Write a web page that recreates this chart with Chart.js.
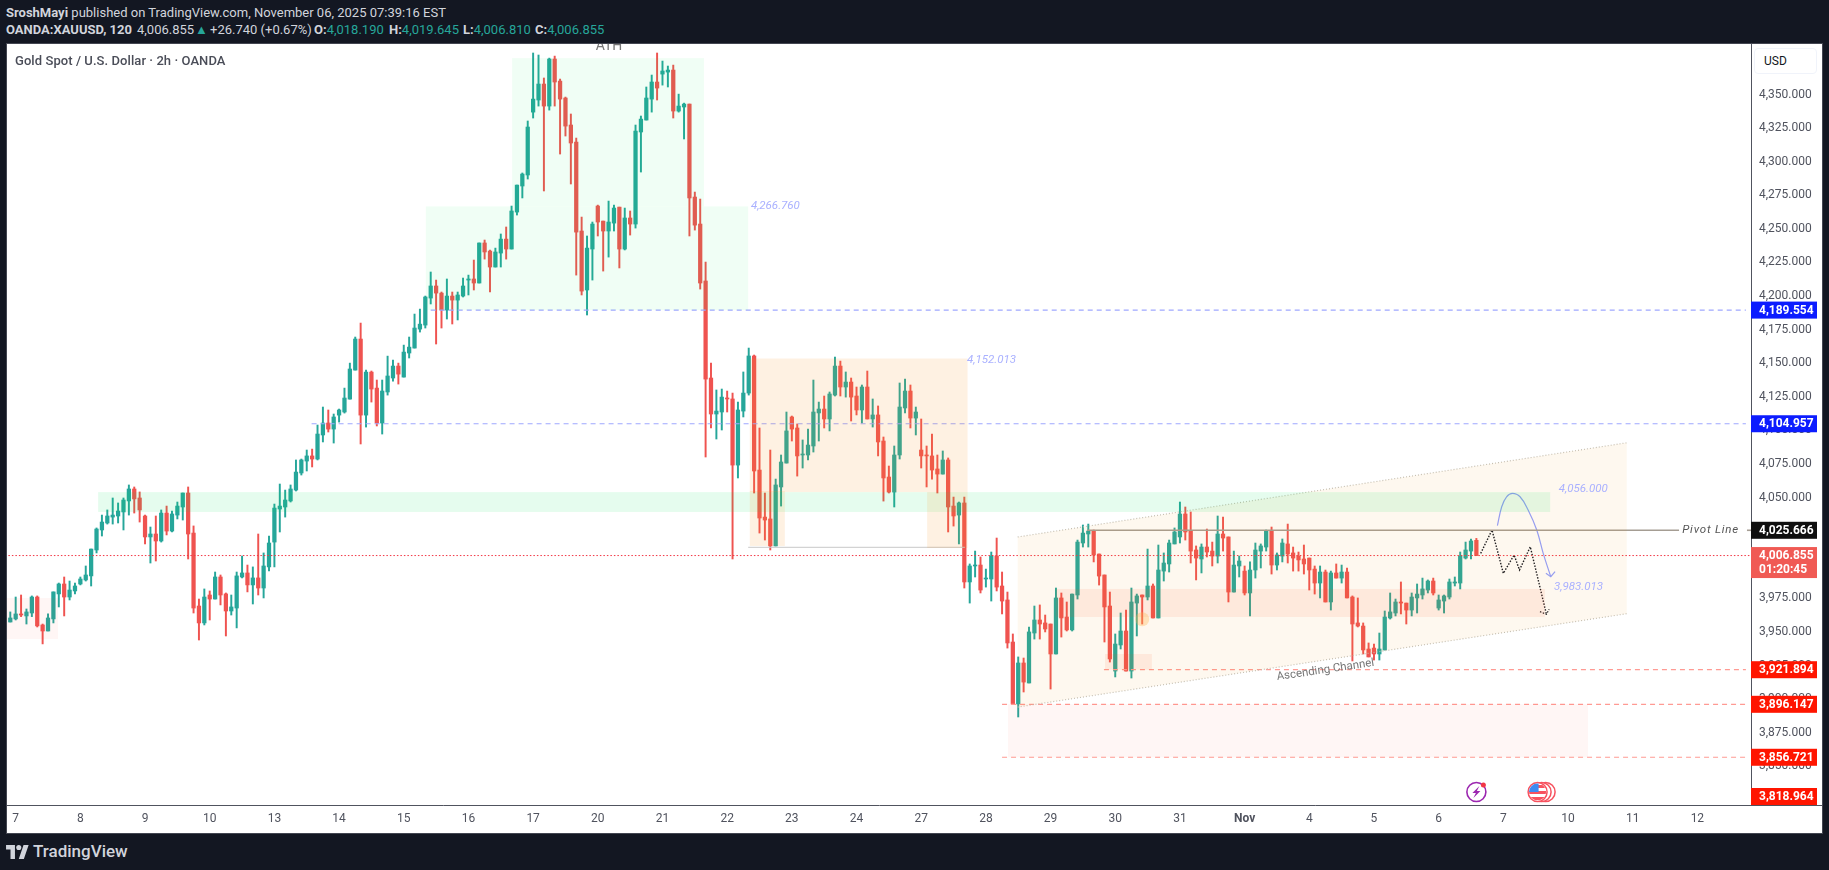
<!DOCTYPE html>
<html>
<head>
<meta charset="utf-8">
<title>XAUUSD 2h</title>
<script src="https://cdn.jsdelivr.net/npm/chart.js@4"></script>
<style>
html, body { margin: 0; padding: 0; background: #131722; width: 1829px; height: 870px; overflow: hidden; font-family: Roboto, sans-serif; }
.hdr { position: absolute; white-space: nowrap; color: #d1d4dc; font-size: 13px; line-height: 16px; }
.hdr b { font-weight: 700; }
.up { color: #26a69a; }
#panel { position: absolute; left: 7px; top: 44px; width: 1815px; height: 789px; background: #fff; box-shadow: 0 0 0 1px #434651; }
#title { position: absolute; left: 15px; top: 53px; font-size: 13px; line-height: 16px; font-weight: 500; color: #4a4d58; white-space: nowrap; letter-spacing: 0.07px; }
#usd { position: absolute; left: 1754px; top: 48px; width: 63px; height: 26px; box-sizing: border-box; border: 1px solid #f0f3fa; border-radius: 4px; background: #fff; font-size: 12px; line-height: 24px; color: #131722; padding-left: 9px; }
#brand { position: absolute; left: 33px; top: 841px; font-size: 17px; line-height: 20px; font-weight: 500; color: #d1d4dc; }
#logo { position: absolute; left: 6px; top: 845px; }
</style>
</head>
<body>
<div class="hdr" style="left:6px;top:5px"><b>SroshMayi</b> published on TradingView.com, November 06, 2025 07:39:16 EST</div>
<div class="hdr" style="left:6px;top:22px"><b>OANDA:XAUUSD, 120</b></div>
<div class="hdr" style="left:137px;top:22px">4,006.855</div>
<div class="hdr up" style="left:195px;top:22px">▲</div>
<div class="hdr" style="left:210px;top:22px">+26.740 (+0.67%)</div>
<div class="hdr" style="left:314px;top:22px"><b>O:</b><span class="up">4,018.190</span></div>
<div class="hdr" style="left:389px;top:22px"><b>H:</b><span class="up">4,019.645</span></div>
<div class="hdr" style="left:463px;top:22px"><b>L:</b><span class="up">4,006.810</span></div>
<div class="hdr" style="left:535px;top:22px"><b>C:</b><span class="up">4,006.855</span></div>
<div id="panel"><canvas id="goldChart" width="1815" height="789"></canvas></div>
<div id="title">Gold Spot / U.S. Dollar · 2h · OANDA</div>
<div id="usd">USD</div>
<svg id="logo" width="23" height="14" viewBox="0 0 36 22"><path fill="#d1d4dc" d="M14 22H7V7H0V0h14v22zM28 22h-8L27.500 0h8L28 22z"/><circle fill="#d1d4dc" cx="20" cy="4" r="4"/></svg>
<div id="brand">TradingView</div>

<script>
const opens = [
3957.4,3959.7,3963.4,3961.9,3964.1,3976.0,3955.2,3950.7,3959.7,3978.3,
3985.7,3976.0,3980.5,3985.7,3988.7,3991.7,4011.0,4025.9,4031.1,4035.5,
4036.3,4039.3,4047.5,4056.4,4049.7,4036.3,4020.7,4022.9,4017.7,4038.5,
4025.1,4037.0,4043.0,4053.4,4023.6,3969.3,3956.7,3977.5,3974.5,3990.9,
3978.3,3965.6,3967.8,3990.9,3993.9,3985.0,3990.2,3982.7,3998.4,4016.9,
4041.5,4043.0,4047.5,4055.6,4068.3,4077.2,4081.0,4078.7,4096.6,4105.5,
4101.0,4111.4,4113.7,4123.3,4144.9,4168.0,4111.4,4143.4,4131.5,4105.5,
4128.6,4139.0,4147.9,4139.7,4157.6,4161.3,4175.4,4178.4,4198.5,4207.5,
4202.2,4189.6,4200.0,4197.0,4200.0,4211.9,4212.7,4209.7,4239.5,4233.5,
4221.6,4232.0,4242.4,4235.0,4262.5,4281.9,4290.1,4336.9,4345.9,4357.8,
4341.4,4376.4,4360.0,4347.4,4327.3,4314.6,4248.4,4204.5,4235.0,4267.0,
4255.8,4248.4,4254.3,4266.2,4235.0,4258.1,4253.6,4322.1,4331.0,4346.6,
4359.3,4365.2,4366.7,4368.2,4337.7,4340.7,4342.9,4273.7,4253.6,4211.2,
4139.0,4112.2,4113.7,4124.1,4123.4,4074.2,4114.4,4127.8,4155.4,4070.5,
4035.5,4034.1,4014.0,4057.9,4075.7,4110.0,4101.8,4081.7,4081.7,4088.4,
4113.0,4115.9,4108.5,4126.3,4147.9,4132.3,4136.0,4125.6,4115.2,4132.3,
4108.5,4111.5,4092.1,4065.3,4054.1,4081.7,4116.7,4129.3,4109.2,4085.4,
4081.7,4081.0,4071.3,4067.5,4078.0,4043.7,4037.0,4046.0,3987.2,3999.1,
3999.8,3989.4,3989.4,4006.5,3984.2,3973.8,3942.5,3896.4,3926.9,3912.0,
3949.2,3958.9,3956.7,3955.9,3933.6,3975.3,3961.1,3951.5,3977.5,4016.2,
4022.9,4025.1,4008.0,3992.4,3969.3,3920.9,3940.3,3950.7,3920.9,3971.5,
3977.5,3976.0,3984.2,3960.4,3995.3,4000.6,4015.5,4020.7,4037.8,4025.1,
4011.0,4004.3,4013.2,4010.2,4006.5,4022.9,4020.7,3979.7,3999.1,3995.3,
3979.0,3996.1,4010.2,4013.2,4025.1,3999.8,4006.5,4015.5,4008.8,4006.5,
4004.3,4005.0,3996.8,3986.4,3994.6,3972.3,3993.9,3990.1,3994.6,3976.0,
3956.7,3954.4,3937.3,3938.0,3933.6,3936.6,3960.4,3964.1,3972.3,3971.5,
3966.3,3975.3,3977.5,3981.2,3987.9,3967.8,3973.0,3976.0,3986.4,3986.4,
4005.0,4010.2,4018.19];

const highs = [
3964.9,3976.0,3977.5,3967.1,3976.8,3976.8,3955.9,3963.4,3979.8,3986.4,
3990.9,3987.9,3986.4,3990.9,3999.1,4011.7,4027.4,4037.0,4040.8,4049.7,
4046.0,4049.7,4059.4,4057.9,4054.2,4037.0,4028.1,4036.3,4040.8,4043.7,
4040.0,4046.7,4053.4,4057.9,4028.9,3974.5,3982.0,3980.5,3994.6,3992.4,
3979.0,3977.5,3994.6,4006.5,3999.8,3998.4,4022.9,4008.8,4021.4,4045.2,
4060.1,4055.6,4059.4,4078.0,4078.7,4085.4,4086.1,4104.0,4117.4,4115.2,
4112.2,4115.9,4131.5,4150.1,4169.5,4179.9,4144.9,4144.2,4137.5,4137.5,
4155.3,4152.4,4150.1,4163.5,4169.5,4186.6,4190.3,4200.0,4217.9,4211.9,
4203.0,4212.7,4203.0,4203.0,4213.4,4215.6,4226.8,4239.5,4241.7,4234.3,
4235.7,4246.2,4251.4,4267.0,4282.6,4291.6,4330.3,4380.9,4379.4,4362.3,
4377.1,4378.6,4361.5,4348.1,4335.5,4317.6,4258.8,4244.7,4255.1,4267.7,
4255.8,4270.7,4267.7,4266.2,4265.5,4263.3,4327.3,4334.0,4355.6,4364.5,
4380.9,4374.9,4371.2,4371.9,4350.3,4343.6,4342.9,4277.4,4272.2,4225.3,
4150.1,4130.1,4130.8,4129.3,4127.8,4121.1,4143.5,4161.3,4156.1,4101.8,
4053.4,4085.4,4063.8,4081.7,4113.7,4110.7,4104.8,4092.9,4101.0,4137.5,
4121.1,4125.6,4128.6,4154.6,4151.6,4143.5,4139.0,4132.3,4133.8,4144.2,
4123.4,4118.2,4095.1,4073.5,4088.4,4135.3,4138.2,4133.8,4117.4,4108.5,
4088.4,4097.3,4081.7,4084.7,4079.5,4050.4,4046.7,4050.4,4000.6,4010.2,
4005.8,3996.8,4009.5,4019.9,3994.6,3979.7,3948.5,3931.4,3930.6,3953.7,
3969.3,3970.1,3962.6,3955.9,3982.7,3979.0,3972.3,3978.2,4018.4,4029.6,
4030.3,4025.9,4008.0,3992.4,3979.7,3948.5,3964.1,3966.3,3982.7,3978.2,
3977.5,4011.7,3985.7,4014.7,4008.8,4018.4,4027.4,4046.7,4043.0,4039.3,
4014.0,4015.5,4026.6,4016.9,4036.3,4035.5,4020.7,4010.2,4006.5,3999.1,
4002.1,4016.2,4015.5,4025.9,4028.1,4008.8,4019.2,4030.3,4013.2,4009.5,
4014.7,4005.0,3999.1,3999.1,3996.1,3995.3,4000.6,3999.8,3997.6,3976.8,
3975.3,3956.7,3941.8,3941.0,3949.2,3965.6,3979.0,3974.5,3987.2,3971.5,
3979.0,3985.7,3990.1,3988.7,3990.1,3977.5,3977.5,3989.4,3990.9,4009.5,
4016.9,4019.2,4019.645];

const lows = [
3957.4,3958.9,3961.4,3955.9,3961.4,3953.7,3941.1,3950.7,3956.7,3968.6,
3961.9,3973.8,3978.3,3985.0,3987.9,3984.2,4008.8,4021.4,4030.3,4030.3,
4031.1,4025.9,4037.0,4038.5,4031.8,4015.5,4001.3,4002.8,4016.9,4022.2,
4024.4,4034.1,4033.3,4004.3,3964.1,3944.0,3955.2,3958.9,3974.5,3970.1,
3947.0,3962.6,3953.0,3990.2,3979.8,3970.8,3977.5,3975.3,3995.4,3998.4,
4024.4,4035.5,4046.7,4054.9,4066.8,4069.8,4072.8,4078.0,4091.4,4098.8,
4090.6,4106.2,4112.9,4123.3,4144.9,4089.9,4102.5,4121.1,4103.3,4097.3,
4126.3,4136.7,4134.5,4139.7,4153.9,4161.3,4173.2,4176.2,4194.1,4164.3,
4176.2,4182.9,4179.2,4182.2,4199.3,4200.8,4204.5,4209.7,4227.5,4203.0,
4221.6,4221.6,4227.5,4235.0,4260.3,4273.0,4287.1,4332.5,4341.4,4278.2,
4338.4,4341.4,4305.7,4319.1,4283.4,4215.6,4200.8,4185.9,4211.9,4244.7,
4218.6,4229.0,4248.4,4220.9,4234.3,4245.4,4250.6,4292.3,4331.0,4336.9,
4345.9,4357.0,4355.6,4332.5,4336.9,4316.9,4244.7,4249.1,4205.2,4080.2,
4101.8,4093.6,4100.3,4113.7,4004.3,4064.6,4110.0,4126.3,4053.4,4023.6,
4018.4,4011.0,4014.0,4043.7,4075.7,4092.1,4066.0,4072.0,4078.0,4083.9,
4092.1,4101.8,4099.6,4125.6,4125.6,4124.8,4107.0,4111.5,4105.5,4108.5,
4102.5,4081.0,4047.4,4053.4,4043.0,4078.7,4113.0,4101.8,4096.6,4072.0,
4057.9,4063.8,4053.4,4067.5,4024.4,4028.8,4015.5,3982.7,3971.5,3990.9,
3979.0,3983.4,3973.0,3980.5,3963.4,3938.0,3896.4,3886.7,3905.3,3912.0,
3944.7,3944.7,3950.0,3907.5,3933.6,3946.2,3950.7,3950.7,3974.5,4013.2,
4013.2,4002.1,3984.9,3942.5,3927.6,3916.5,3937.3,3920.9,3915.7,3947.0,
3955.9,3973.8,3960.4,3960.4,3987.9,3994.6,4015.5,4016.2,4018.4,4001.3,
3988.7,3993.9,4005.8,3999.1,4001.3,4010.2,3972.3,3979.7,3990.9,3977.5,
3961.9,3990.1,3997.6,4010.2,3993.1,3996.1,4002.1,4001.3,3995.3,3995.3,
3993.1,3981.2,3978.2,3975.3,3972.3,3966.3,3990.1,3986.4,3975.3,3928.4,
3953.7,3933.6,3931.4,3929.1,3929.1,3936.6,3959.6,3961.9,3963.4,3955.9,
3961.9,3964.1,3974.5,3979.0,3977.5,3966.3,3964.1,3974.5,3984.2,3982.0,
4004.3,4004.3,4006.81];

const closes = [
3960.4,3963.4,3962.6,3964.9,3976.0,3954.5,3950.7,3960.4,3979.8,3985.7,
3976.0,3981.2,3984.2,3989.4,3992.4,4011.7,4026.6,4031.8,4036.3,4037.0,
4040.0,4048.2,4056.4,4049.0,4040.8,4020.7,4022.9,4017.7,4038.5,4025.1,
4037.8,4043.7,4053.4,4022.9,3967.8,3956.7,3976.0,3974.5,3990.9,3977.5,
3965.6,3968.6,3991.7,3993.9,3985.0,3990.2,3982.7,3999.1,4016.2,4042.2,
4043.7,4048.2,4056.4,4069.0,4078.0,4081.0,4078.7,4097.3,4105.5,4101.0,
4110.0,4115.2,4124.1,4145.7,4168.0,4111.4,4143.4,4130.8,4105.5,4129.3,
4140.5,4147.9,4141.9,4158.3,4162.0,4176.2,4179.1,4199.3,4207.5,4202.2,
4189.6,4200.0,4197.0,4200.8,4207.5,4212.7,4209.7,4239.5,4232.8,4221.6,
4232.8,4242.4,4235.0,4263.3,4282.6,4290.8,4325.8,4346.6,4357.8,4341.4,
4376.4,4359.3,4346.6,4326.5,4313.9,4247.6,4203.7,4235.7,4253.6,4255.1,
4248.4,4255.1,4265.5,4235.0,4258.1,4253.6,4322.8,4331.7,4347.4,4359.3,
4354.8,4367.5,4368.2,4337.7,4341.4,4342.9,4273.0,4252.8,4209.7,4138.2,
4112.2,4114.4,4124.8,4123.4,4074.2,4115.2,4127.8,4155.4,4069.8,4034.8,
4033.3,4014.0,4059.4,4076.5,4099.6,4101.0,4081.0,4082.4,4089.1,4113.7,
4115.9,4108.5,4127.1,4147.9,4132.3,4136.0,4124.8,4115.2,4132.3,4108.5,
4111.5,4091.4,4064.6,4054.1,4081.7,4117.4,4129.3,4109.2,4113.7,4081.0,
4081.0,4070.5,4067.5,4078.0,4043.0,4036.3,4046.0,3987.2,3999.1,3999.8,
3981.2,3990.1,4006.5,3983.4,3973.0,3941.8,3896.4,3926.9,3912.7,3950.0,
3958.9,3955.9,3952.2,3933.6,3975.3,3960.4,3951.5,3978.2,4016.9,4023.6,
4025.1,4007.3,3991.6,3968.6,3929.9,3941.0,3950.7,3920.9,3972.3,3976.8,
3976.0,3984.2,3960.4,3996.1,4001.3,4016.2,4024.4,4037.8,4024.4,4010.2,
4005.0,4013.2,4009.5,4006.5,4022.9,4019.9,3979.7,3999.8,4002.8,3979.0,
3996.1,4011.0,4014.0,4025.1,3999.8,4007.3,4016.2,4008.0,4005.0,4003.6,
4000.6,3996.1,3986.4,3994.6,3972.3,3993.9,3990.1,3994.6,3975.3,3955.9,
3954.4,3936.6,3931.4,3933.6,3937.3,3961.1,3964.9,3972.3,3971.5,3966.3,
3976.0,3978.2,3982.0,3987.9,3979.0,3973.8,3976.8,3987.2,3987.2,4006.5,
4011.0,4017.7,4006.855];

// time axis: bar number of each day start and the label shown
const dayBars = [1,13,25,37,49,61,73,85,97,109,121,133,145,157,169,181,193,205,217,229,241,253,265,277,289,301,313];
const dayLabels = ['7','8','9','10','13','14','15','16','17','20','21','22','23','24','27','28','29','30','31','Nov','4','5','6','7','10','11','12'];

const priceTicks = [3825,3850,3875,3900,3925,3950,3975,4000,4025,4050,4075,4100,4125,4150,4175,4200,4225,4250,4275,4300,4325,4350,4375];

// levels marked on the right axis
const blueLevels = [4189.554, 4104.957];
const blueLevelStarts = [78, 55.9];
const redLevels = [3921.894, 3896.147, 3856.721];
const redLevelStarts = [202.9, 184, 184];
const pivotPrice = 4025.666;
const lastPrice = 4006.855;
const lowestTag = 3818.964;

// drawn zones: [first bar, last bar, upper price, lower price]
const zoneGreenBand = [16.3, 285.7, 4054.1, 4039.3];
const zoneGreenLow = [77.1, 136.9, 4266.76, 4189.554];
const zoneGreenHigh = [93.1, 128.7, 4377.1, 4266.76];
const zoneOrangeBig = [137.2, 177.6, 4153.5, 4054.1];
const zoneOrangeLeft = [137.2, 143.7, 4054.9, 4014.0];
const zoneOrangeRight = [170.1, 177.6, 4054.1, 4012.5];
const zoneRedStart = [-0.7, 8.85, 3975.3, 3944.7];
const zoneRedBelow = [185.1, 292.7, 3896.147, 3856.721];
const zoneSalmonWide = [194, 284.7, 3982.0, 3961.1];
const zoneSalmonSmall = [203.1, 211.8, 3933.6, 3921.894];

// ascending channel
const channelBars = [186.9, 299.9];
const channelTop = [4020.7, 4090.8];
const channelBottom = [3894.1, 3963.6];

const supportBars = [136.9, 177.1];
const supportPrice = 4013.0;

// sketched price paths
const zigBars = [272.8, 274.9, 277.0, 279.0, 280.0, 282.0, 285.0];
const zigPrices = [4008.5, 4025.9, 3993.6, 4007.3, 3996.1, 4013.4, 3963.1];
const zigHeadBars = [283.8, 285.0, 285.5];
const zigHeadPrices = [3965.1, 3963.1, 3966.9];
const arcBars = [275.9, 276.7, 277.6, 278.7, 280.1, 281.6, 283.2, 284.4, 285.8];
const arcPrices = [4029.1, 4043.2, 4050.6, 4053.2, 4050.6, 4040.8, 4025.9, 4008.5, 3991.1];
const arcHeadBars = [284.9, 285.8, 286.6];
const arcHeadPrices = [3993.6, 3991.1, 3994.9];

const green = '#26a69a';
const red = '#ef5350';
const axisText = '#50535e';

function points(xs, ys) {
    return xs.map((x, i) => ({ x: x, y: ys[i] }));
}

function lineSet(xs, ys, color, width, dash, tension) {
    return {
        type: 'line',
        data: points(xs, ys),
        borderColor: color,
        borderWidth: width,
        borderDash: dash || [],
        pointRadius: 0,
        tension: tension || 0,
        order: 1
    };
}

const candleColors = closes.map((c, i) => c >= opens[i] ? green : red);

const datasets = [
    {
        label: 'wick',
        data: opens.map((o, i) => ({ x: i, y: [lows[i], highs[i]] })),
        backgroundColor: candleColors,
        barThickness: 1.3,
        grouped: false,
        order: 3
    },
    {
        label: 'body',
        data: opens.map((o, i) => ({ x: i, y: [o, closes[i]] })),
        backgroundColor: candleColors,
        barThickness: 3.6,
        minBarLength: 1,
        grouped: false,
        order: 2
    },
    lineSet([-1, 323], [lastPrice, lastPrice], '#f23645', 1, [1.5, 2]),
    lineSet(supportBars, [supportPrice, supportPrice], '#c8c8c8', 1),
    lineSet([199.8, 309.6], [pivotPrice, pivotPrice], '#a59d93', 1.6),
    lineSet([322.2, 323], [pivotPrice, pivotPrice], '#a59d93', 1.6),
    lineSet(channelBars, channelTop, '#c4c0b6', 1.2, [1, 2]),
    lineSet(channelBars, channelBottom, '#c4c0b6', 1.2, [1, 2]),
    lineSet(zigBars, zigPrices, '#131722', 1.4, [1.5, 1.5]),
    lineSet(zigHeadBars, zigHeadPrices, '#131722', 1.2, [1.5, 1.5]),
    lineSet(arcBars, arcPrices, '#8f9dff', 1.2, null, 0.4),
    lineSet(arcHeadBars, arcHeadPrices, '#8f9dff', 1.2)
];
blueLevels.forEach((p, i) => datasets.push(lineSet([blueLevelStarts[i], 322], [p, p], '#9fa8ff', 1.2, [5, 4])));
redLevels.forEach((p, i) => datasets.push(lineSet([redLevelStarts[i], 322], [p, p], '#ff9a93', 1.2, [5, 4])));

function fillZone(chart, zone, color) {
    const x = chart.scales.x, y = chart.scales.y;
    const left = x.getPixelForValue(zone[0]);
    const top = y.getPixelForValue(zone[2]);
    chart.ctx.fillStyle = color;
    chart.ctx.fillRect(left, top, x.getPixelForValue(zone[1]) - left, y.getPixelForValue(zone[3]) - top);
}

function noteText(chart, text, bar, price, color, font, angle, spacing) {
    const ctx = chart.ctx;
    ctx.save();
    ctx.translate(chart.scales.x.getPixelForValue(bar), chart.scales.y.getPixelForValue(price));
    if (angle) ctx.rotate(angle);
    ctx.font = font;
    ctx.fillStyle = color;
    ctx.textBaseline = 'middle';
    ctx.textAlign = angle ? 'center' : 'left';
    if (spacing) ctx.letterSpacing = spacing;
    ctx.fillText(text, 0, 0);
    ctx.restore();
}

function priceTag(chart, price, color, second) {
    const ctx = chart.ctx;
    const area = chart.chartArea;
    let mid = chart.scales.y.getPixelForValue(price);
    if (mid > area.bottom - 8.5) mid = area.bottom - 8.5;
    const h = second ? 31 : 17;
    const top = mid - 8.5;
    ctx.fillStyle = color;
    ctx.fillRect(area.right, top, 66, h);
    ctx.fillStyle = '#fff';
    ctx.font = 'bold 12px Roboto';
    ctx.textBaseline = 'middle';
    ctx.textAlign = 'left';
    ctx.fillText(price.toLocaleString('en-US', { minimumFractionDigits: 3 }), area.right + 8, mid + 0.5);
    if (second) ctx.fillText(second, area.right + 8, mid + 14.5);
}

const overlayPlugin = {
    id: 'overlay',
    afterDatasetsDraw(chart) {
        const ctx = chart.ctx, x = chart.scales.x, y = chart.scales.y, area = chart.chartArea;
        ctx.save();
        ctx.beginPath();
        ctx.rect(area.left, area.top, area.right - area.left, area.bottom - area.top);
        ctx.clip();

        // channel fill goes under the other zones
        ctx.fillStyle = 'rgba(245,150,30,0.07)';
        ctx.beginPath();
        ctx.moveTo(x.getPixelForValue(channelBars[0]), y.getPixelForValue(channelTop[0]));
        ctx.lineTo(x.getPixelForValue(channelBars[1]), y.getPixelForValue(channelTop[1]));
        ctx.lineTo(x.getPixelForValue(channelBars[1]), y.getPixelForValue(channelBottom[1]));
        ctx.lineTo(x.getPixelForValue(channelBars[0]), y.getPixelForValue(channelBottom[0]));
        ctx.closePath();
        ctx.fill();

        fillZone(chart, zoneGreenBand, 'rgba(0,230,90,0.1)');
        fillZone(chart, zoneGreenLow, 'rgba(0,230,90,0.06)');
        fillZone(chart, zoneGreenHigh, 'rgba(0,230,90,0.06)');
        fillZone(chart, zoneOrangeBig, 'rgba(245,150,30,0.13)');
        fillZone(chart, zoneOrangeLeft, 'rgba(245,150,30,0.13)');
        fillZone(chart, zoneOrangeRight, 'rgba(245,150,30,0.13)');
        fillZone(chart, zoneRedStart, 'rgba(255,80,50,0.05)');
        fillZone(chart, zoneRedBelow, 'rgba(255,80,50,0.05)');
        fillZone(chart, zoneSalmonWide, 'rgba(250,80,30,0.09)');
        fillZone(chart, zoneSalmonSmall, 'rgba(250,80,30,0.09)');

        // touch marker left on the chart
        ctx.fillStyle = 'rgba(255,180,80,0.35)';
        ctx.beginPath();
        ctx.arc(x.getPixelForValue(210), y.getPixelForValue(3959.4), 7, 0, Math.PI * 2);
        ctx.fill();

        const noteColor = '#aab1ff';
        const noteFont = 'italic 11.500px Roboto';
        noteText(chart, '4,266.760', 137.4, 4267, noteColor, noteFont);
        noteText(chart, '4,152.013', 177.5, 4152.4, noteColor, noteFont);
        noteText(chart, '4,056.000', 287.3, 4056.4, noteColor, noteFont);
        noteText(chart, '3,983.013', 286.4, 3983.4, noteColor, noteFont);
        noteText(chart, 'Pivot Line', 310.2, pivotPrice, '#555', 'italic 11.500px Roboto', 0, '0.8px');
        noteText(chart, 'Ascending Channel', 244, 3921.6, '#777', '11.500px Roboto', -0.146);
        noteText(chart, 'ATH', 108.6, 4385.5, '#777', '14px Roboto');
        ctx.restore();
    },
    afterDraw(chart) {
        const ctx = chart.ctx, x = chart.scales.x, area = chart.chartArea;
        // the time axis line runs on under the price axis
        ctx.fillStyle = axisText;
        ctx.fillRect(area.right, area.bottom, 71, 1);

        blueLevels.forEach(p => priceTag(chart, p, '#0c1cff'));
        priceTag(chart, pivotPrice, '#0f0f0f');
        priceTag(chart, lastPrice, '#f05a54', '01:20:45');
        redLevels.forEach(p => priceTag(chart, p, '#ff1500'));
        priceTag(chart, lowestTag, '#ff1500');

        // event icons under the last bars
        const cy = area.bottom - 13;
        const bx = x.getPixelForValue(272);
        ctx.strokeStyle = '#9c27b0';
        ctx.lineWidth = 1.6;
        ctx.beginPath();
        ctx.arc(bx, cy, 9.5, 0, Math.PI * 2);
        ctx.stroke();
        ctx.fillStyle = '#9c27b0';
        ctx.beginPath();
        ctx.moveTo(bx + 3, cy - 6);
        ctx.lineTo(bx - 4, cy + 1);
        ctx.lineTo(bx - 0.5, cy + 1);
        ctx.lineTo(bx - 3, cy + 6);
        ctx.lineTo(bx + 4, cy - 1);
        ctx.lineTo(bx + 0.5, cy - 1);
        ctx.closePath();
        ctx.fill();
        ctx.fillStyle = '#f23645';
        ctx.beginPath();
        ctx.arc(bx + 7, cy - 7, 2.5, 0, Math.PI * 2);
        ctx.fill();

        const fx = x.getPixelForValue(284.1) - 4;
        [8, 4, 0].forEach(off => {
            ctx.fillStyle = '#fff';
            ctx.strokeStyle = '#f7525f';
            ctx.lineWidth = 1.5;
            ctx.beginPath();
            ctx.arc(fx + off, cy, 9.5, 0, Math.PI * 2);
            ctx.fill();
            ctx.stroke();
        });
        ctx.save();
        ctx.beginPath();
        ctx.arc(fx, cy, 8.5, 0, Math.PI * 2);
        ctx.clip();
        ctx.fillStyle = '#f7525f';
        ctx.fillRect(fx - 9, cy - 1, 18, 3);
        ctx.fillRect(fx - 9, cy + 5, 18, 3);
        ctx.fillRect(fx, cy - 7, 9, 3);
        ctx.fillStyle = '#3d8bf2';
        ctx.fillRect(fx - 9, cy - 9, 10, 9);
        ctx.restore();
    }
};

function noPadding(axis) {
    axis.paddingLeft = 0;
    axis.paddingRight = 0;
    axis.paddingTop = 0;
    axis.paddingBottom = 0;
}

new Chart(document.getElementById('goldChart'), {
    type: 'bar',
    data: { datasets: datasets },
    plugins: [overlayPlugin],
    options: {
        responsive: false,
        animation: false,
        devicePixelRatio: 1,
        layout: { padding: 0, autoPadding: false },
        plugins: { legend: { display: false }, tooltip: { enabled: false } },
        scales: {
            x: {
                type: 'linear',
                offset: false,
                min: -0.61,
                max: 322.95,
                grid: { display: false, drawTicks: false, offset: false },
                border: { display: true, color: axisText, width: 1 },
                afterFit: axis => { axis.height = 28; noPadding(axis); },
                afterBuildTicks: axis => { axis.ticks = dayBars.map(v => ({ value: v })); },
                ticks: {
                    autoSkip: false,
                    maxRotation: 0,
                    padding: 7,
                    color: axisText,
                    font: ctx => ({ family: 'Roboto', size: 12, weight: dayLabels[dayBars.indexOf(ctx.tick && ctx.tick.value)] === 'Nov' ? 'bold' : 'normal' }),
                    callback: v => dayLabels[dayBars.indexOf(v)]
                }
            },
            y: {
                type: 'linear',
                position: 'right',
                min: 3821.2,
                max: 4387.6,
                grid: { display: false, drawTicks: false },
                border: { display: true, color: axisText, width: 1 },
                afterFit: axis => { axis.width = 71; noPadding(axis); },
                afterBuildTicks: axis => { axis.ticks = priceTicks.map(v => ({ value: v })); },
                ticks: {
                    autoSkip: false,
                    padding: 8,
                    color: axisText,
                    font: { family: 'Roboto', size: 12 },
                    callback: v => v.toLocaleString('en-US', { minimumFractionDigits: 3 })
                }
            }
        }
    }
});
</script>
</body>
</html>
